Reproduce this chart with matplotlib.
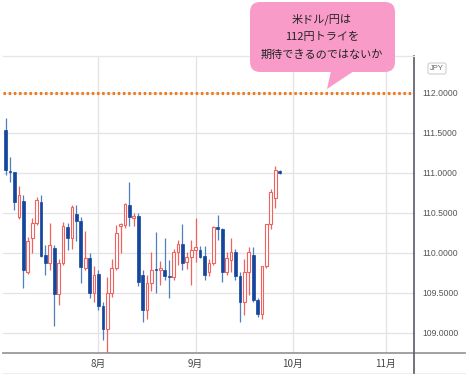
import matplotlib
matplotlib.use("Agg")
import matplotlib.pyplot as plt
from matplotlib.patches import FancyBboxPatch, Polygon
import numpy as np

plt.rcParams['font.family'] = ['Noto Sans CJK JP', 'DejaVu Sans']

opens  = [111.53,111.02,111.01,110.45,110.64,109.76,110.19,110.37,110.64,109.97,
          109.87,110.06,109.48,109.87,110.32,110.18,110.48,110.40,109.81,109.94,
          109.50,109.74,109.34,109.05,109.50,109.81,110.34,110.35,110.60,110.44,
          110.46,109.72,109.29,109.62,109.79,109.79,109.78,109.71,109.70,110.01,
          110.11,109.89,109.95,110.04,110.04,109.96,109.76,109.87,110.32,110.29,
          109.76,109.91,110.01,109.71,109.39,109.76,109.97,109.41,109.23,109.83,
          110.36,110.68,111.02]
highs  = [111.68,111.20,111.01,110.83,110.72,110.20,110.43,110.70,110.72,110.10,
          110.37,110.10,109.92,110.39,110.37,110.60,110.60,110.45,110.27,110.00,
          109.83,109.78,109.38,109.70,109.92,110.35,110.37,110.62,110.89,110.50,
          110.50,109.78,109.72,110.01,110.26,109.90,110.19,109.91,110.05,110.16,
          110.36,110.01,110.16,110.43,110.08,110.08,109.92,110.34,110.47,110.31,
          110.01,110.18,110.05,109.76,109.92,110.07,110.07,109.43,109.83,110.36,
          110.80,111.08,111.03]
lows   = [110.97,110.89,110.53,110.42,109.56,109.74,110.00,110.35,109.95,109.72,
          109.78,109.08,109.35,109.85,110.03,110.05,110.15,109.62,109.78,109.44,
          109.38,109.28,108.91,108.75,109.45,109.78,110.00,110.31,110.33,110.33,
          109.58,109.14,109.17,109.52,109.50,109.60,109.66,109.43,109.66,109.85,
          109.79,109.80,109.60,109.88,109.93,109.66,109.71,109.85,110.16,109.64,
          109.72,109.76,109.66,109.14,109.22,109.47,109.38,109.20,109.17,109.81,
          110.30,110.56,110.99]
closes = [111.03,111.01,110.64,110.72,109.78,110.14,110.37,110.66,109.96,109.87,
          110.10,109.48,109.87,110.33,110.18,110.57,110.40,109.82,109.94,109.50,
          109.72,109.34,109.05,109.50,109.81,110.25,110.36,110.61,110.45,110.46,
          109.64,109.29,109.62,109.78,109.78,109.81,109.71,109.70,110.01,110.11,
          109.87,109.95,110.03,110.07,109.95,109.72,109.87,110.32,110.30,109.76,
          109.93,110.01,109.71,109.39,109.76,110.01,109.41,109.23,109.83,110.36,
          110.76,111.03,111.00]

month_idx = [21, 43, 65, 86]
month_labels = ['8月', '9月', '10月', '11月']
yticks = [109.0, 109.5, 110.0, 110.5, 111.0, 111.5, 112.0]
target_level = 112.0
callout_lines = ['米ドル/円は', '112円トライを', '期待できるのではないか']

W, H = 470, 379
fig = plt.figure(figsize=(W/100, H/100), dpi=100)
fig.patch.set_facecolor('white')

L, R, T, B = 3, 414, 56, 353
ax = fig.add_axes([L/W, 1-B/H, (R-L)/W, (B-T)/H])

o = np.array(opens); h = np.array(highs); l = np.array(lows); c = np.array(closes)
x = np.arange(len(o))
up = c >= o

red = '#F0625E'
blue_body = '#15469E'
blue_wick = '#4F7FBF'

ax.vlines(x[up], l[up], h[up], color=red, lw=0.9, zorder=3)
ax.vlines(x[~up], l[~up], h[~up], color=blue_wick, lw=0.9, zorder=3)
bw = 0.62
body_lo = np.minimum(o, c)
body_h = np.maximum(np.abs(c - o), 0.012)
ax.bar(x[up], body_h[up], bw, bottom=body_lo[up], facecolor='white',
       edgecolor=red, linewidth=0.8, zorder=4)
ax.bar(x[~up], body_h[~up], bw, bottom=body_lo[~up], facecolor=blue_body,
       edgecolor=blue_body, linewidth=0.5, zorder=4)

ax.axhline(target_level, color='#F07A1E', lw=2.2, ls=(0, (0.8, 0.9)), zorder=5)

ax.set_xlim(-0.6, 92.4)
ax.set_ylim(112 - (B - 92.7)/80, 112 + (92.7 - T)/80)
ax.set_yticks(yticks)
ax.set_xticks(month_idx)
ax.set_xticklabels(month_labels)
ax.grid(True, color='#E3E3E3', lw=0.9)
ax.set_axisbelow(True)
ax.yaxis.tick_right()
ax.tick_params(axis='y', length=0, pad=6, labelsize=6.2, labelcolor='#555555')
ax.tick_params(axis='x', length=0, pad=4, labelsize=7, labelcolor='#444444')
ax.yaxis.set_major_formatter(matplotlib.ticker.FormatStrFormatter('%.4f'))
for lab in ax.get_yticklabels():
    lab.set_family('Liberation Sans')
ax.spines['left'].set_visible(False)
ax.spines['top'].set_color('#E6E6E6')
ax.spines['top'].set_linewidth(0.9)
ax.spines['right'].set_color('#5a5a66')
ax.spines['right'].set_linewidth(1.2)
ax.spines['bottom'].set_color('#9a9a9a')
ax.spines['bottom'].set_linewidth(1.3)

# overlay in pixel coordinates
ov = fig.add_axes([0, 0, 1, 1], facecolor='none')
ov.set_xlim(0, W); ov.set_ylim(H, 0); ov.axis('off')
ov.plot([R, 465], [B, B], color='#9a9a9a', lw=1.3)
ov.plot([L, 465], [373, 373], color='#EEEEEE', lw=0.8)
ov.plot([R, R], [B, 373], color='#5a5a66', lw=1.2)
# JPY box
ov.add_patch(FancyBboxPatch((428, 63), 18, 11, boxstyle='round,pad=0,rounding_size=2',
                            facecolor='white', edgecolor='#D0D0D0', lw=0.8))
ov.text(437, 69, 'JPY', ha='center', va='center', fontsize=5.5, color='#666666',
        family='Liberation Sans')
# callout
pink = '#F99BC9'
ov.add_patch(FancyBboxPatch((250, 2), 145, 70, boxstyle='round,pad=0,rounding_size=10',
                            facecolor=pink, edgecolor='none', zorder=10))
ov.add_patch(Polygon([[331, 71], [354, 71], [327, 89]], closed=True,
                     facecolor=pink, edgecolor='none', zorder=10))
for i, t in enumerate(callout_lines):
    ov.text(322, 19 + i*18, t, ha='center', va='center', fontsize=8,
            color='#222222', zorder=11)

fig.savefig('out.png', dpi=100)
